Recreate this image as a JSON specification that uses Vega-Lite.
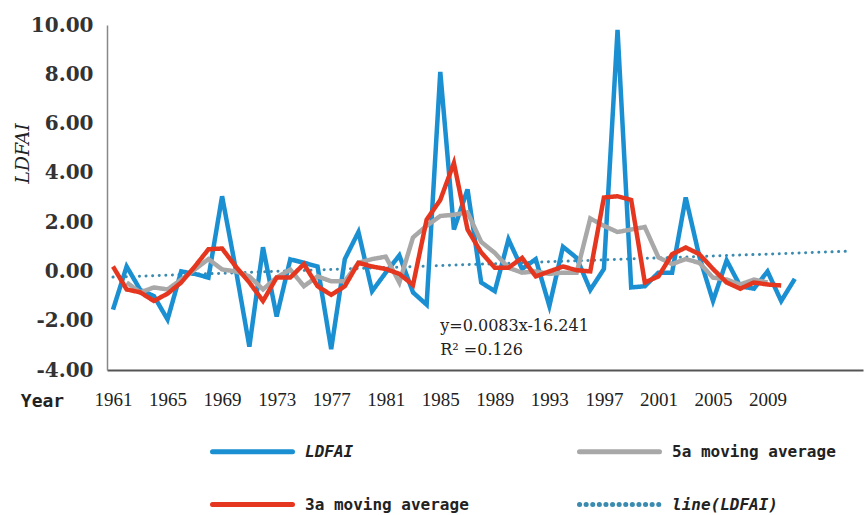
{
  "$schema": "https://vega.github.io/schema/vega-lite/v6.json",
  "width": 756,
  "height": 345,
  "autosize": {"type": "none"},
  "padding": {"left": 107, "top": 25, "right": 3, "bottom": 145},
  "background": "white",
  "config": {"view": {"stroke": null}},
  "datasets": {
    "series": [
      {"year":1961,"series":"LDFAI","value":-1.55},{"year":1962,"series":"LDFAI","value":0.2},{"year":1963,"series":"LDFAI","value":-0.75},{"year":1964,"series":"LDFAI","value":-1.0},{"year":1965,"series":"LDFAI","value":-1.95},{"year":1966,"series":"LDFAI","value":0.0},{"year":1967,"series":"LDFAI","value":-0.1},{"year":1968,"series":"LDFAI","value":-0.25},{"year":1969,"series":"LDFAI","value":3.05},{"year":1970,"series":"LDFAI","value":0.1},
      {"year":1971,"series":"LDFAI","value":-3.05},{"year":1972,"series":"LDFAI","value":0.98},{"year":1973,"series":"LDFAI","value":-1.83},{"year":1974,"series":"LDFAI","value":0.49},{"year":1975,"series":"LDFAI","value":0.35},{"year":1976,"series":"LDFAI","value":0.2},{"year":1977,"series":"LDFAI","value":-3.15},{"year":1978,"series":"LDFAI","value":0.5},{"year":1979,"series":"LDFAI","value":1.6},{"year":1980,"series":"LDFAI","value":-0.8},
      {"year":1981,"series":"LDFAI","value":-0.05},{"year":1982,"series":"LDFAI","value":0.65},{"year":1983,"series":"LDFAI","value":-0.85},{"year":1984,"series":"LDFAI","value":-1.35},{"year":1985,"series":"LDFAI","value":8.1},{"year":1986,"series":"LDFAI","value":1.7},{"year":1987,"series":"LDFAI","value":3.33},{"year":1988,"series":"LDFAI","value":-0.45},{"year":1989,"series":"LDFAI","value":-0.8},{"year":1990,"series":"LDFAI","value":1.3},
      {"year":1991,"series":"LDFAI","value":0.1},{"year":1992,"series":"LDFAI","value":0.5},{"year":1993,"series":"LDFAI","value":-1.4},{"year":1994,"series":"LDFAI","value":1.0},{"year":1995,"series":"LDFAI","value":0.55},{"year":1996,"series":"LDFAI","value":-0.75},{"year":1997,"series":"LDFAI","value":0.1},{"year":1998,"series":"LDFAI","value":9.8},{"year":1999,"series":"LDFAI","value":-0.65},{"year":2000,"series":"LDFAI","value":-0.6},
      {"year":2001,"series":"LDFAI","value":-0.05},{"year":2002,"series":"LDFAI","value":-0.05},{"year":2003,"series":"LDFAI","value":3.0},{"year":2004,"series":"LDFAI","value":0.6},{"year":2005,"series":"LDFAI","value":-1.2},{"year":2006,"series":"LDFAI","value":0.45},{"year":2007,"series":"LDFAI","value":-0.6},{"year":2008,"series":"LDFAI","value":-0.7},{"year":2009,"series":"LDFAI","value":0.0},{"year":2010,"series":"LDFAI","value":-1.2},{"year":2011,"series":"LDFAI","value":-0.3},

      {"year":1961,"series":"3a moving average","value":0.2},{"year":1962,"series":"3a moving average","value":-0.73},{"year":1963,"series":"3a moving average","value":-0.85},{"year":1964,"series":"3a moving average","value":-1.2},{"year":1965,"series":"3a moving average","value":-0.9},{"year":1966,"series":"3a moving average","value":-0.45},{"year":1967,"series":"3a moving average","value":0.2},{"year":1968,"series":"3a moving average","value":0.9},{"year":1969,"series":"3a moving average","value":0.93},{"year":1970,"series":"3a moving average","value":0.2},
      {"year":1971,"series":"3a moving average","value":-0.45},{"year":1972,"series":"3a moving average","value":-1.2},{"year":1973,"series":"3a moving average","value":-0.25},{"year":1974,"series":"3a moving average","value":-0.25},{"year":1975,"series":"3a moving average","value":0.3},{"year":1976,"series":"3a moving average","value":-0.6},{"year":1977,"series":"3a moving average","value":-0.95},{"year":1978,"series":"3a moving average","value":-0.6},{"year":1979,"series":"3a moving average","value":0.35},{"year":1980,"series":"3a moving average","value":0.2},
      {"year":1981,"series":"3a moving average","value":0.1},{"year":1982,"series":"3a moving average","value":-0.1},{"year":1983,"series":"3a moving average","value":-0.55},{"year":1984,"series":"3a moving average","value":2.1},{"year":1985,"series":"3a moving average","value":2.9},{"year":1986,"series":"3a moving average","value":4.4},{"year":1987,"series":"3a moving average","value":1.7},{"year":1988,"series":"3a moving average","value":0.77},{"year":1989,"series":"3a moving average","value":0.15},{"year":1990,"series":"3a moving average","value":0.15},
      {"year":1991,"series":"3a moving average","value":0.55},{"year":1992,"series":"3a moving average","value":-0.2},{"year":1993,"series":"3a moving average","value":0.0},{"year":1994,"series":"3a moving average","value":0.2},{"year":1995,"series":"3a moving average","value":0.05},{"year":1996,"series":"3a moving average","value":0.0},{"year":1997,"series":"3a moving average","value":3.0},{"year":1998,"series":"3a moving average","value":3.05},{"year":1999,"series":"3a moving average","value":2.9},{"year":2000,"series":"3a moving average","value":-0.45},
      {"year":2001,"series":"3a moving average","value":-0.2},{"year":2002,"series":"3a moving average","value":0.7},{"year":2003,"series":"3a moving average","value":0.97},{"year":2004,"series":"3a moving average","value":0.7},{"year":2005,"series":"3a moving average","value":0.1},{"year":2006,"series":"3a moving average","value":-0.45},{"year":2007,"series":"3a moving average","value":-0.7},{"year":2008,"series":"3a moving average","value":-0.45},{"year":2009,"series":"3a moving average","value":-0.53},{"year":2010,"series":"3a moving average","value":-0.57},

      {"year":1962,"series":"5a moving average","value":-0.45},{"year":1963,"series":"5a moving average","value":-0.85},{"year":1964,"series":"5a moving average","value":-0.65},{"year":1965,"series":"5a moving average","value":-0.73},{"year":1966,"series":"5a moving average","value":-0.33},{"year":1967,"series":"5a moving average","value":0.08},{"year":1968,"series":"5a moving average","value":0.5},{"year":1969,"series":"5a moving average","value":0.08},{"year":1970,"series":"5a moving average","value":0.0},
      {"year":1971,"series":"5a moving average","value":-0.2},{"year":1972,"series":"5a moving average","value":-0.73},{"year":1973,"series":"5a moving average","value":-0.25},{"year":1974,"series":"5a moving average","value":0.08},{"year":1975,"series":"5a moving average","value":-0.6},{"year":1976,"series":"5a moving average","value":-0.2},{"year":1977,"series":"5a moving average","value":-0.4},{"year":1978,"series":"5a moving average","value":-0.4},{"year":1979,"series":"5a moving average","value":0.35},{"year":1980,"series":"5a moving average","value":0.5},
      {"year":1981,"series":"5a moving average","value":0.6},{"year":1982,"series":"5a moving average","value":-0.45},{"year":1983,"series":"5a moving average","value":1.38},{"year":1984,"series":"5a moving average","value":1.85},{"year":1985,"series":"5a moving average","value":2.25},{"year":1986,"series":"5a moving average","value":2.3},{"year":1987,"series":"5a moving average","value":2.4},{"year":1988,"series":"5a moving average","value":1.2},{"year":1989,"series":"5a moving average","value":0.75},{"year":1990,"series":"5a moving average","value":0.15},
      {"year":1991,"series":"5a moving average","value":-0.05},{"year":1992,"series":"5a moving average","value":0.0},{"year":1993,"series":"5a moving average","value":-0.1},{"year":1994,"series":"5a moving average","value":-0.05},{"year":1995,"series":"5a moving average","value":-0.05},{"year":1996,"series":"5a moving average","value":2.15},{"year":1997,"series":"5a moving average","value":1.85},{"year":1998,"series":"5a moving average","value":1.6},{"year":1999,"series":"5a moving average","value":1.7},{"year":2000,"series":"5a moving average","value":1.8},
      {"year":2001,"series":"5a moving average","value":0.57},{"year":2002,"series":"5a moving average","value":0.3},{"year":2003,"series":"5a moving average","value":0.5},{"year":2004,"series":"5a moving average","value":0.35},{"year":2005,"series":"5a moving average","value":-0.25},{"year":2006,"series":"5a moving average","value":-0.33},{"year":2007,"series":"5a moving average","value":-0.53},{"year":2008,"series":"5a moving average","value":-0.33},{"year":2009,"series":"5a moving average","value":-0.45},

      {"year":1961,"series":"line(LDFAI)","value":-0.23},{"year":2015,"series":"line(LDFAI)","value":0.82}
    ],
    "notes": [
      {"year":1985,"value":-2.23,"label":"y=0.0083x-16.241"},
      {"year":1985,"value":-3.17,"label":"R² =0.126"}
    ]
  },
  "encoding": {
    "x": {
      "field": "year", "type": "quantitative",
      "scale": {"domain": [1960.56, 2016], "nice": false, "zero": false},
      "axis": {
        "values": [1961,1965,1969,1973,1977,1981,1985,1989,1993,1997,2001,2005,2009],
        "format": "d", "grid": false, "ticks": false, "labelFlush": false, "labelOverlap": false,
        "domainColor": "#555", "domainWidth": 2,
        "labelFont": "Liberation Serif", "labelFontSize": 19, "labelColor": "#222", "labelPadding": 20,
        "title": "Year", "titleFont": "DejaVu Sans Mono", "titleFontWeight": "bold", "titleFontSize": 18, "titleColor": "#222",
        "titleX": -65, "titleY": 31, "titleAlign": "center", "titleBaseline": "middle"
      }
    },
    "y": {
      "field": "value", "type": "quantitative",
      "scale": {"domain": [-4, 10], "nice": false},
      "axis": {
        "values": [-4,-2,0,2,4,6,8,10],
        "labelExpr": "replace(format(datum.value, '.2f'), '\u2212', '-')",
        "grid": false, "ticks": false, "labelFlush": false, "labelOverlap": false,
        "domainColor": "#888", "domainWidth": 1.5,
        "labelFont": "DejaVu Serif", "labelFontWeight": "bold", "labelFontSize": 20, "labelColor": "#333", "labelPadding": 14,
        "title": "LDFAI", "titleFont": "DejaVu Serif", "titleFontStyle": "italic", "titleFontWeight": "normal", "titleFontSize": 19, "titleColor": "#222",
        "titleX": -85, "titleY": 128, "titleAngle": -90, "titleAlign": "center", "titleBaseline": "middle"
      }
    }
  },
  "layer": [
    {
      "data": {"name": "series"},
      "transform": [{"filter": "datum.series == 'line(LDFAI)'"}],
      "mark": {"type": "line", "strokeWidth": 3, "strokeCap": "round"},
      "encoding": {
        "color": {"field": "series", "type": "nominal",
          "scale": {"domain": ["LDFAI","3a moving average","5a moving average","line(LDFAI)"], "range": ["#1a8fd1","#e5361f","#a8a8a8","#3b8bb0"]},
          "legend": {
            "orient": "none", "legendX": 103, "legendY": 384, "columns": 2, "title": null,
            "symbolType": "stroke", "symbolSize": 6400, "symbolStrokeWidth": 5,
            "labelFont": "DejaVu Sans Mono", "labelFontWeight": "bold", "labelFontSize": 16, "labelColor": "#222", "labelLimit": 0,
            "columnPadding": 100, "rowPadding": 0, "labelOffset": 10, "padding": 0,
            "encode": {
              "labels": {"update": {"fontStyle": {"signal": "datum.label == 'LDFAI' || datum.label == 'line(LDFAI)' ? 'italic' : 'normal'"}}},
              "symbols": {"update": {"strokeCap": {"value": "round"}}}
            }
          }
        },
        "strokeDash": {"field": "series", "type": "nominal",
          "scale": {"domain": ["LDFAI","3a moving average","5a moving average","line(LDFAI)"], "range": [[1,0],[1,0],[1,0],[0.1,6.5]]}}
      }
    },
    {
      "data": {"name": "series"},
      "transform": [{"filter": "datum.series == 'LDFAI'"}],
      "mark": {"type": "line", "strokeWidth": 4.5},
      "encoding": {
        "color": {"field": "series", "type": "nominal"},
        "strokeDash": {"field": "series", "type": "nominal"}
      }
    },
    {
      "data": {"name": "series"},
      "transform": [{"filter": "datum.series == '5a moving average'"}],
      "mark": {"type": "line", "strokeWidth": 4.5},
      "encoding": {
        "color": {"field": "series", "type": "nominal"},
        "strokeDash": {"field": "series", "type": "nominal"}
      }
    },
    {
      "data": {"name": "series"},
      "transform": [{"filter": "datum.series == '3a moving average'"}],
      "mark": {"type": "line", "strokeWidth": 4.5},
      "encoding": {
        "color": {"field": "series", "type": "nominal"},
        "strokeDash": {"field": "series", "type": "nominal"}
      }
    },
    {
      "data": {"name": "notes"},
      "mark": {"type": "text", "align": "left", "baseline": "middle", "font": "DejaVu Serif", "fontSize": 16, "color": "#222"},
      "encoding": {"text": {"field": "label", "type": "nominal"}}
    }
  ]
}
